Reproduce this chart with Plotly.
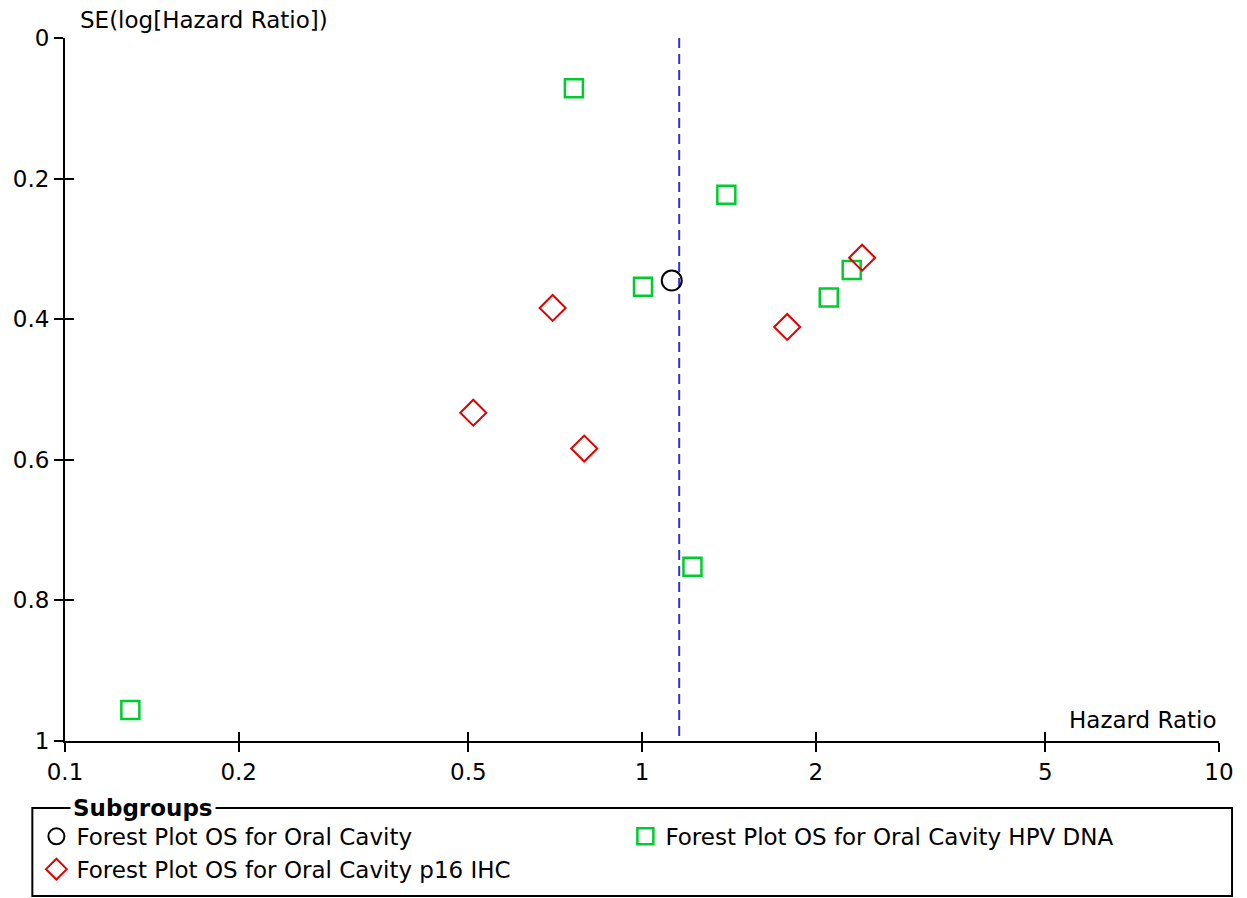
import plotly.graph_objects as go

# Data
hr_all = [1.126]
se_all = [0.345]

hr_hpv = [0.762, 1.400, 1.004, 2.309, 2.107, 1.223, 0.1298]
se_hpv = [0.0716, 0.223, 0.354, 0.330, 0.369, 0.752, 0.956]

hr_p16 = [2.407, 0.700, 1.785, 0.510, 0.794]
se_p16 = [0.3125, 0.384, 0.411, 0.533, 0.584]

pooled_hr = 1.16
se_range = [0, 1]

x_tickvals = [0.1, 0.2, 0.5, 1, 2, 5, 10]
x_ticktext = ["0.1", "0.2", "0.5", "1", "2", "5", "10"]
y_tickvals = [0, 0.2, 0.4, 0.6, 0.8, 1]
y_ticktext = ["0", "0.2", "0.4", "0.6", "0.8", "1"]

names = ["Forest Plot OS for Oral Cavity",
         "Forest Plot OS for Oral Cavity HPV DNA",
         "Forest Plot OS for Oral Cavity p16 IHC"]

GREEN = "#00CC2E"
RED = "#E00000"
BLUE = "#3030DC"
FONT = "DejaVu Sans"
FS = 23

fig = go.Figure()

fig.add_trace(go.Scatter(
    x=[pooled_hr, pooled_hr], y=se_range, mode="lines",
    line=dict(color=BLUE, width=2, dash="10px,6px"),
    showlegend=False, hoverinfo="skip"))

fig.add_trace(go.Scatter(
    x=hr_all, y=se_all, mode="markers", name=names[0],
    marker=dict(symbol="circle-open", size=20, color="black",
                line=dict(width=2, color="black"))))

fig.add_trace(go.Scatter(
    x=hr_hpv, y=se_hpv, mode="markers", name=names[1],
    marker=dict(symbol="square-open", size=18, color=GREEN,
                line=dict(width=2.5, color=GREEN))))

fig.add_trace(go.Scatter(
    x=hr_p16, y=se_p16, mode="markers", name=names[2],
    marker=dict(symbol="diamond-open", size=20, color=RED,
                line=dict(width=2, color=RED))))

# invisible trace for the overlaid tick axes (ticks crossing the axis lines)
fig.add_trace(go.Scatter(
    x=[pooled_hr], y=[0.5], xaxis="x2", yaxis="y2", mode="markers",
    marker=dict(opacity=0), showlegend=False, hoverinfo="skip"))

axis_common = dict(showgrid=False, zeroline=False, linecolor="black",
                   linewidth=2, tickcolor="black", tickwidth=2)

fig.update_layout(
    width=1247, height=898,
    paper_bgcolor="white", plot_bgcolor="white",
    margin=dict(l=65, r=28, t=38, b=157, autoexpand=False),
    font=dict(family=FONT, size=FS, color="black"),
    xaxis=dict(type="log", range=[-1, 1], tickvals=x_tickvals,
               ticktext=x_ticktext, ticks="outside", ticklen=9,
               showline=True, tickfont=dict(size=FS), **axis_common),
    yaxis=dict(range=[1, 0], tickvals=y_tickvals, ticktext=y_ticktext,
               ticks="outside", ticklen=9, showline=True,
               tickfont=dict(size=FS), **axis_common),
    xaxis2=dict(type="log", range=[-1, 1], overlaying="x", side="bottom",
                tickvals=x_tickvals, showticklabels=False, ticks="inside",
                ticklen=9, showline=False, anchor="y2", **axis_common),
    yaxis2=dict(range=[1, 0], overlaying="y", side="left",
                tickvals=y_tickvals, showticklabels=False, ticks="inside",
                ticklen=9, showline=False, anchor="x2", **axis_common),
    legend=dict(orientation="h", x=-0.0248, xanchor="left",
                y=-0.105, yanchor="top", entrywidth=544,
                entrywidthmode="pixels", font=dict(size=FS),
                bgcolor="rgba(0,0,0,0)", traceorder="normal",
                itemclick=False),
    showlegend=True,
)

# legend frame
fig.add_shape(type="rect", xref="paper", yref="paper",
              x0=-0.0283, x1=1.0113, y0=-0.2205, y1=-0.0953,
              line=dict(color="black", width=2), layer="above")

fig.add_annotation(text="<b>Subgroups</b>", xref="paper", yref="paper",
                   x=0.004, y=-0.0953, xanchor="left", yanchor="middle",
                   showarrow=False, bgcolor="white", borderpad=2,
                   font=dict(size=FS, family=FONT))

fig.add_annotation(text="SE(log[Hazard Ratio])", xref="paper", yref="paper",
                   x=0.0115, y=1, xanchor="left", yanchor="bottom",
                   yshift=3, showarrow=False, font=dict(size=FS))

fig.add_annotation(text="Hazard Ratio", xref="paper", yref="paper",
                   x=1.0, y=0, xanchor="right", yanchor="bottom",
                   yshift=6, showarrow=False, font=dict(size=FS))

fig.write_html(
    "out.html",
    config={"displayModeBar": False},
    post_script="document.body.style.margin='0px';"
                "document.body.style.overflow='hidden';")
